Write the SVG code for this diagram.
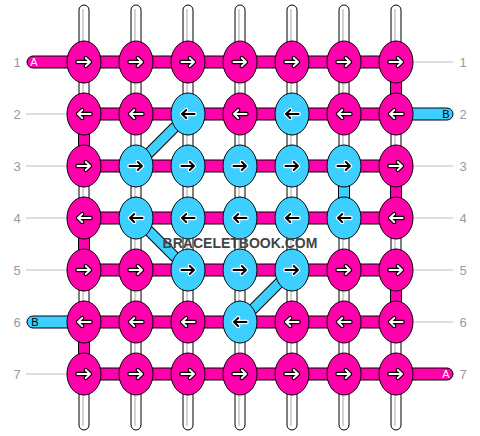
<svg xmlns="http://www.w3.org/2000/svg" xmlns:xlink="http://www.w3.org/1999/xlink" width="480" height="436" viewBox="0 0 480 436">
<style>
.str{fill:#fff;stroke:#000;stroke-width:1}
.sl{stroke:#c4c4c4;stroke-width:1.5}
.sp{fill:#ff00aa;stroke:#000;stroke-width:1}
.sc{fill:#3ccfff;stroke:#000;stroke-width:1}
.dg{stroke:#000;stroke-width:11;stroke-linecap:butt}
.dgi{stroke:#3ccfff;stroke-width:9;stroke-linecap:butt}
.kp{fill:#ff00aa;stroke:#000;stroke-width:1}
.kc{fill:#3ccfff;stroke:#000;stroke-width:1}
.ao{fill:none;stroke-width:4.4;stroke-linecap:round;stroke-linejoin:round}
.ai{fill:none;stroke-width:2;stroke-linecap:round;stroke-linejoin:round}
.w{stroke:#fff}
.b{stroke:#000}
.gl{stroke:#bdbdbd;stroke-width:1}
.num{font-family:"Liberation Sans",Arial,sans-serif;font-size:13px;fill:#9a9a9a;text-anchor:middle}
.end{font-family:"Liberation Sans",Arial,sans-serif;font-size:11px;text-anchor:middle}
.wm{font-family:"Liberation Sans",Arial,sans-serif;font-size:14px;font-weight:bold;fill:#444;text-anchor:middle}
</style>
<defs>
<path id="r" d="M-6.5,0H6M1.8,-4L6,0L1.8,4"/>
<path id="l" d="M6.5,0H-6M-1.8,-4L-6,0L-1.8,4"/>
<g id="Rp"><use href="#r" class="ao b"/><use href="#r" class="ai w"/></g>
<g id="Lp"><use href="#l" class="ao b"/><use href="#l" class="ai w"/></g>
<g id="Rc"><use href="#r" class="ao w"/><use href="#r" class="ai b"/></g>
<g id="Lc"><use href="#l" class="ao w"/><use href="#l" class="ai b"/></g>
</defs>
<rect width="480" height="436" fill="#fff"/>
<g id="labels">
<line class="gl" x1="413" y1="62" x2="453" y2="62"/>
<line class="gl" x1="26" y1="114" x2="67" y2="114"/>
<line class="gl" x1="26" y1="166" x2="67" y2="166"/>
<line class="gl" x1="413" y1="166" x2="453" y2="166"/>
<line class="gl" x1="26" y1="218" x2="67" y2="218"/>
<line class="gl" x1="413" y1="218" x2="453" y2="218"/>
<line class="gl" x1="26" y1="270" x2="67" y2="270"/>
<line class="gl" x1="413" y1="270" x2="453" y2="270"/>
<line class="gl" x1="413" y1="322" x2="453" y2="322"/>
<line class="gl" x1="26" y1="374" x2="67" y2="374"/>
<text class="num" x="17" y="66.5">1</text><text class="num" x="463" y="66.5">1</text>
<text class="num" x="17" y="118.5">2</text><text class="num" x="463" y="118.5">2</text>
<text class="num" x="17" y="170.5">3</text><text class="num" x="463" y="170.5">3</text>
<text class="num" x="17" y="222.5">4</text><text class="num" x="463" y="222.5">4</text>
<text class="num" x="17" y="274.5">5</text><text class="num" x="463" y="274.5">5</text>
<text class="num" x="17" y="326.5">6</text><text class="num" x="463" y="326.5">6</text>
<text class="num" x="17" y="378.5">7</text><text class="num" x="463" y="378.5">7</text>
</g>
<g id="strings">
<rect class="str" x="79" y="5" width="10" height="425" rx="5"/><line class="sl" x1="83" y1="9" x2="83" y2="426"/>
<rect class="str" x="131" y="5" width="10" height="425" rx="5"/><line class="sl" x1="135" y1="9" x2="135" y2="426"/>
<rect class="str" x="183" y="5" width="10" height="425" rx="5"/><line class="sl" x1="187" y1="9" x2="187" y2="426"/>
<rect class="str" x="235" y="5" width="10" height="425" rx="5"/><line class="sl" x1="239" y1="9" x2="239" y2="426"/>
<rect class="str" x="287" y="5" width="10" height="425" rx="5"/><line class="sl" x1="291" y1="9" x2="291" y2="426"/>
<rect class="str" x="339" y="5" width="10" height="425" rx="5"/><line class="sl" x1="343" y1="9" x2="343" y2="426"/>
<rect class="str" x="391" y="5" width="10" height="425" rx="5"/><line class="sl" x1="395" y1="9" x2="395" y2="426"/>
</g>
<g id="connectors">
<rect class="sp" x="27" y="56" width="50" height="12" rx="6"/>
<rect class="sc" x="405" y="108" width="48" height="12" rx="6"/>
<rect class="sc" x="27" y="316" width="50" height="12" rx="6"/>
<rect class="sp" x="405" y="368" width="48" height="12" rx="6"/>
<rect class="sp" x="84" y="56" width="312" height="12"/>
<rect class="sp" x="84" y="108" width="312" height="12"/>
<rect class="sp" x="84" y="160" width="312" height="12"/>
<rect class="sp" x="84" y="212" width="312" height="12"/>
<rect class="sp" x="84" y="264" width="312" height="12"/>
<rect class="sp" x="84" y="316" width="312" height="12"/>
<rect class="sp" x="84" y="368" width="312" height="12"/>
<rect class="sp" x="78.5" y="114" width="11" height="52"/>
<rect class="sp" x="78.5" y="218" width="11" height="52"/>
<rect class="sp" x="78.5" y="322" width="11" height="52"/>
<rect class="sp" x="390.5" y="62" width="11" height="52"/>
<rect class="sp" x="390.5" y="166" width="11" height="52"/>
<rect class="sp" x="390.5" y="270" width="11" height="52"/>
<rect class="sc" x="338.5" y="166" width="11" height="52"/>
<line class="dg" x1="188" y1="114" x2="136" y2="166"/><line class="dgi" x1="188" y1="114" x2="136" y2="166"/>
<line class="dg" x1="136" y1="218" x2="188" y2="270"/><line class="dgi" x1="136" y1="218" x2="188" y2="270"/>
<line class="dg" x1="292" y1="270" x2="240" y2="322"/><line class="dgi" x1="292" y1="270" x2="240" y2="322"/>
</g>
<text class="end" x="34" y="66" fill="#fff">A</text>
<text class="end" x="446" y="118" fill="#000">B</text>
<text class="end" x="35" y="326" fill="#000">B</text>
<text class="end" x="446" y="378" fill="#fff">A</text>
<g id="row1">
<g id="k1-1"><ellipse class="kp" cx="84" cy="62" rx="17" ry="21"/><use href="#Rp" x="84" y="62"/></g>
<g id="k1-2"><ellipse class="kp" cx="136" cy="62" rx="17" ry="21"/><use href="#Rp" x="136" y="62"/></g>
<g id="k1-3"><ellipse class="kp" cx="188" cy="62" rx="17" ry="21"/><use href="#Rp" x="188" y="62"/></g>
<g id="k1-4"><ellipse class="kp" cx="240" cy="62" rx="17" ry="21"/><use href="#Rp" x="240" y="62"/></g>
<g id="k1-5"><ellipse class="kp" cx="292" cy="62" rx="17" ry="21"/><use href="#Rp" x="292" y="62"/></g>
<g id="k1-6"><ellipse class="kp" cx="344" cy="62" rx="17" ry="21"/><use href="#Rp" x="344" y="62"/></g>
<g id="k1-7"><ellipse class="kp" cx="396" cy="62" rx="17" ry="21"/><use href="#Rp" x="396" y="62"/></g>
</g>
<g id="row2">
<g id="k2-1"><ellipse class="kp" cx="84" cy="114" rx="17" ry="21"/><use href="#Lp" x="84" y="114"/></g>
<g id="k2-2"><ellipse class="kp" cx="136" cy="114" rx="17" ry="21"/><use href="#Lp" x="136" y="114"/></g>
<g id="k2-3"><ellipse class="kc" cx="188" cy="114" rx="17" ry="21"/><use href="#Lc" x="188" y="114"/></g>
<g id="k2-4"><ellipse class="kp" cx="240" cy="114" rx="17" ry="21"/><use href="#Lp" x="240" y="114"/></g>
<g id="k2-5"><ellipse class="kc" cx="292" cy="114" rx="17" ry="21"/><use href="#Lc" x="292" y="114"/></g>
<g id="k2-6"><ellipse class="kp" cx="344" cy="114" rx="17" ry="21"/><use href="#Lp" x="344" y="114"/></g>
<g id="k2-7"><ellipse class="kp" cx="396" cy="114" rx="17" ry="21"/><use href="#Lp" x="396" y="114"/></g>
</g>
<g id="row3">
<g id="k3-1"><ellipse class="kp" cx="84" cy="166" rx="17" ry="21"/><use href="#Rp" x="84" y="166"/></g>
<g id="k3-2"><ellipse class="kc" cx="136" cy="166" rx="17" ry="21"/><use href="#Rc" x="136" y="166"/></g>
<g id="k3-3"><ellipse class="kc" cx="188" cy="166" rx="17" ry="21"/><use href="#Rc" x="188" y="166"/></g>
<g id="k3-4"><ellipse class="kc" cx="240" cy="166" rx="17" ry="21"/><use href="#Rc" x="240" y="166"/></g>
<g id="k3-5"><ellipse class="kc" cx="292" cy="166" rx="17" ry="21"/><use href="#Rc" x="292" y="166"/></g>
<g id="k3-6"><ellipse class="kc" cx="344" cy="166" rx="17" ry="21"/><use href="#Rc" x="344" y="166"/></g>
<g id="k3-7"><ellipse class="kp" cx="396" cy="166" rx="17" ry="21"/><use href="#Rp" x="396" y="166"/></g>
</g>
<g id="row4">
<g id="k4-1"><ellipse class="kp" cx="84" cy="218" rx="17" ry="21"/><use href="#Lp" x="84" y="218"/></g>
<g id="k4-2"><ellipse class="kc" cx="136" cy="218" rx="17" ry="21"/><use href="#Lc" x="136" y="218"/></g>
<g id="k4-3"><ellipse class="kc" cx="188" cy="218" rx="17" ry="21"/><use href="#Lc" x="188" y="218"/></g>
<g id="k4-4"><ellipse class="kc" cx="240" cy="218" rx="17" ry="21"/><use href="#Lc" x="240" y="218"/></g>
<g id="k4-5"><ellipse class="kc" cx="292" cy="218" rx="17" ry="21"/><use href="#Lc" x="292" y="218"/></g>
<g id="k4-6"><ellipse class="kc" cx="344" cy="218" rx="17" ry="21"/><use href="#Lc" x="344" y="218"/></g>
<g id="k4-7"><ellipse class="kp" cx="396" cy="218" rx="17" ry="21"/><use href="#Lp" x="396" y="218"/></g>
</g>
<g id="row5">
<g id="k5-1"><ellipse class="kp" cx="84" cy="270" rx="17" ry="21"/><use href="#Rp" x="84" y="270"/></g>
<g id="k5-2"><ellipse class="kp" cx="136" cy="270" rx="17" ry="21"/><use href="#Rp" x="136" y="270"/></g>
<g id="k5-3"><ellipse class="kc" cx="188" cy="270" rx="17" ry="21"/><use href="#Rc" x="188" y="270"/></g>
<g id="k5-4"><ellipse class="kc" cx="240" cy="270" rx="17" ry="21"/><use href="#Rc" x="240" y="270"/></g>
<g id="k5-5"><ellipse class="kc" cx="292" cy="270" rx="17" ry="21"/><use href="#Rc" x="292" y="270"/></g>
<g id="k5-6"><ellipse class="kp" cx="344" cy="270" rx="17" ry="21"/><use href="#Rp" x="344" y="270"/></g>
<g id="k5-7"><ellipse class="kp" cx="396" cy="270" rx="17" ry="21"/><use href="#Rp" x="396" y="270"/></g>
</g>
<g id="row6">
<g id="k6-1"><ellipse class="kp" cx="84" cy="322" rx="17" ry="21"/><use href="#Lp" x="84" y="322"/></g>
<g id="k6-2"><ellipse class="kp" cx="136" cy="322" rx="17" ry="21"/><use href="#Lp" x="136" y="322"/></g>
<g id="k6-3"><ellipse class="kp" cx="188" cy="322" rx="17" ry="21"/><use href="#Lp" x="188" y="322"/></g>
<g id="k6-4"><ellipse class="kc" cx="240" cy="322" rx="17" ry="21"/><use href="#Lc" x="240" y="322"/></g>
<g id="k6-5"><ellipse class="kp" cx="292" cy="322" rx="17" ry="21"/><use href="#Lp" x="292" y="322"/></g>
<g id="k6-6"><ellipse class="kp" cx="344" cy="322" rx="17" ry="21"/><use href="#Lp" x="344" y="322"/></g>
<g id="k6-7"><ellipse class="kp" cx="396" cy="322" rx="17" ry="21"/><use href="#Lp" x="396" y="322"/></g>
</g>
<g id="row7">
<g id="k7-1"><ellipse class="kp" cx="84" cy="374" rx="17" ry="21"/><use href="#Rp" x="84" y="374"/></g>
<g id="k7-2"><ellipse class="kp" cx="136" cy="374" rx="17" ry="21"/><use href="#Rp" x="136" y="374"/></g>
<g id="k7-3"><ellipse class="kp" cx="188" cy="374" rx="17" ry="21"/><use href="#Rp" x="188" y="374"/></g>
<g id="k7-4"><ellipse class="kp" cx="240" cy="374" rx="17" ry="21"/><use href="#Rp" x="240" y="374"/></g>
<g id="k7-5"><ellipse class="kp" cx="292" cy="374" rx="17" ry="21"/><use href="#Rp" x="292" y="374"/></g>
<g id="k7-6"><ellipse class="kp" cx="344" cy="374" rx="17" ry="21"/><use href="#Rp" x="344" y="374"/></g>
<g id="k7-7"><ellipse class="kp" cx="396" cy="374" rx="17" ry="21"/><use href="#Rp" x="396" y="374"/></g>
</g>
<text class="wm" x="240" y="248">BRACELETBOOK.COM</text>
</svg>
